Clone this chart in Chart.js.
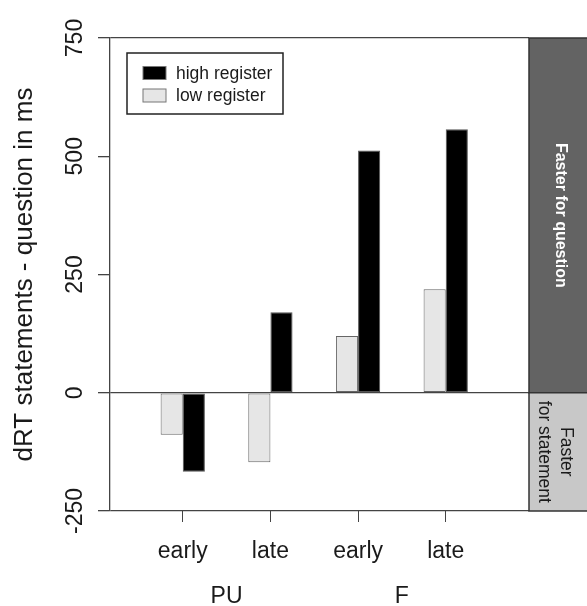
<!DOCTYPE html>
<html>
<head>
<meta charset="utf-8">
<script src="https://cdn.jsdelivr.net/npm/chart.js@4/dist/chart.umd.min.js"></script>
<style>
  html, body { margin: 0; padding: 0; background: #fff; }
  #wrap { width: 587px; height: 606px; }
</style>
</head>
<body>
<div id="wrap"><canvas id="chart" width="587" height="606"></canvas></div>
<script>
// data
const categories   = ['early', 'late', 'early', 'late'];
const groups       = ['PU', 'F'];
const lowRegister  = [-89, -147, 120, 219];
const highRegister = [-167, 170, 512, 557];
const yTicks       = [-250, 0, 250, 500, 750];
const frameValues  = [-250, 0, 750];

const FONT = "'Liberation Sans', Arial, sans-serif";
const INK  = '#1a1a1a';
const LINE = '#444';

const overlay = {
  id: 'overlay',
  afterDraw(chart) {
    const { ctx, chartArea: ca, scales: { x, y } } = chart;
    ctx.save();

    // y tick labels, rotated like R's las=0
    ctx.fillStyle = INK;
    ctx.font = '23px ' + FONT;
    ctx.textAlign = 'center';
    ctx.textBaseline = 'alphabetic';
    y.ticks.forEach(t => {
      ctx.save();
      ctx.translate(82, y.getPixelForValue(t.value));
      ctx.rotate(-Math.PI / 2);
      ctx.fillText(String(t.value), 0, 0);
      ctx.restore();
    });

    // group labels under pairs of categories
    ctx.font = '23px ' + FONT;
    groups.forEach((g, i) => {
      const cx = (x.getPixelForValue(i * 2) + x.getPixelForValue(i * 2 + 1)) / 2;
      ctx.fillText(g, cx, 603);
    });

    // side panel
    const pTop = y.getPixelForValue(750), pMid = y.getPixelForValue(0), pBot = y.getPixelForValue(-250);
    const pL = ca.right, pW = chart.width - ca.right + 2;
    ctx.lineWidth = 1.5;
    ctx.strokeStyle = '#333';
    ctx.fillStyle = '#636363';
    ctx.fillRect(pL, pTop, pW, pMid - pTop);
    ctx.strokeRect(pL, pTop, pW, pMid - pTop);
    ctx.fillStyle = '#c8c8c8';
    ctx.fillRect(pL, pMid, pW, pBot - pMid);
    ctx.strokeRect(pL, pMid, pW, pBot - pMid);

    ctx.textAlign = 'center';
    ctx.textBaseline = 'alphabetic';
    ctx.save();
    ctx.translate(pL + 27, (pTop + pMid) / 2);
    ctx.rotate(Math.PI / 2);
    ctx.fillStyle = '#fff';
    ctx.font = 'bold 16px ' + FONT;
    ctx.fillText('Faster for question', 0, 0);
    ctx.restore();

    ctx.save();
    ctx.translate(pL, (pMid + pBot) / 2);
    ctx.rotate(Math.PI / 2);
    ctx.fillStyle = INK;
    ctx.font = '17.5px ' + FONT;
    ctx.fillText('Faster', 0, -32);
    ctx.fillText('for statement', 0, -10);
    ctx.restore();

    // legend box inside plot
    const lx = ca.left + 17, ly = ca.top + 15, lw = 156, lh = 61;
    ctx.fillStyle = '#fff';
    ctx.fillRect(lx, ly, lw, lh);
    ctx.lineWidth = 1.5;
    ctx.strokeStyle = '#222';
    ctx.strokeRect(lx, ly, lw, lh);
    const items = [chart.data.datasets[1], chart.data.datasets[0]];
    ctx.font = '17.5px ' + FONT;
    ctx.textAlign = 'left';
    ctx.textBaseline = 'middle';
    items.forEach((ds, i) => {
      const cy = ly + 20 + i * 22.5;
      ctx.fillStyle = ds.backgroundColor;
      ctx.fillRect(lx + 16, cy - 6.5, 23, 13);
      ctx.lineWidth = 1;
      ctx.strokeStyle = '#777';
      ctx.strokeRect(lx + 16, cy - 6.5, 23, 13);
      ctx.fillStyle = INK;
      ctx.fillText(ds.label, lx + 49, cy + 1);
    });

    ctx.restore();
  }
};

new Chart(document.getElementById('chart'), {
  type: 'bar',
  data: {
    datasets: [
      {
        label: 'low register',
        data: lowRegister.map((v, i) => ({ x: i, y: v })),
        backgroundColor: '#e6e6e6',
        borderColor: '#666',
        borderWidth: 1,
        borderSkipped: false
      },
      {
        label: 'high register',
        data: highRegister.map((v, i) => ({ x: i, y: v })),
        backgroundColor: '#000',
        borderColor: '#555',
        borderWidth: 1,
        borderSkipped: false
      }
    ]
  },
  options: {
    responsive: false,
    animation: false,
    events: [],
    layout: { padding: { top: 38, right: 58, left: 0, bottom: 0 } },
    categoryPercentage: 0.505,
    barPercentage: 1,
    plugins: { legend: { display: false }, tooltip: { enabled: false } },
    scales: {
      x: {
        type: 'linear',
        offset: false,
        min: -0.83,
        max: 3.95,
        afterBuildTicks: s => { s.ticks = categories.map((c, i) => ({ value: i })); },
        afterFit: s => { s.height = 95; },
        border: { display: false },
        grid: { offset: false, drawOnChartArea: false, tickLength: 11, color: LINE, lineWidth: 1 },
        ticks: {
          callback: v => categories[v] ?? '',
          font: { family: FONT, size: 23 },
          color: INK,
          padding: 16,
          maxRotation: 0
        }
      },
      y: {
        min: -250,
        max: 750,
        afterBuildTicks: s => { s.ticks = yTicks.map(v => ({ value: v })); },
        afterFit: s => { s.width = 110; },
        border: { display: true, color: LINE, width: 1.3 },
        grid: {
          color: c => frameValues.includes(c.tick.value) ? LINE : 'rgba(0,0,0,0)',
          tickColor: LINE,
          tickLength: 12,
          lineWidth: 1.3
        },
        ticks: { display: false },
        title: {
          display: true,
          text: 'dRT statements - question in ms',
          font: { family: FONT, size: 26 },
          color: INK,
          padding: { top: 9, bottom: 0 }
        }
      }
    }
  },
  plugins: [overlay]
});
</script>
</body>
</html>
